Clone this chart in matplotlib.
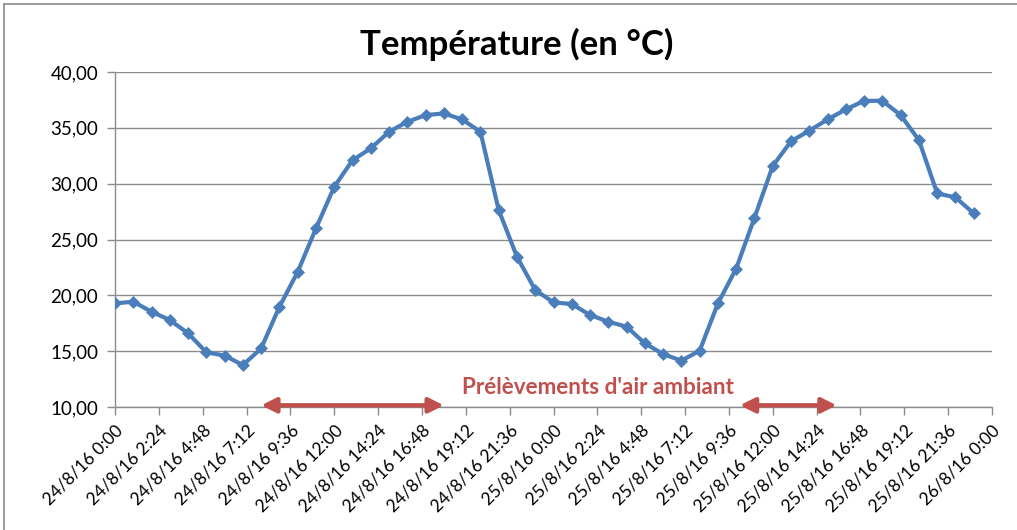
import matplotlib
matplotlib.use("Agg")
import matplotlib.pyplot as plt
import numpy as np

plt.rcParams['font.family'] = ['Lato', 'DejaVu Sans']

# hourly readings, 24/8/16 0:00 -> 25/8/16 23:00
hours = np.arange(48)
temp = [19.28, 19.43, 18.53, 17.79, 16.60, 14.90, 14.60, 13.76,
        15.25, 18.98, 22.10, 26.00, 29.72, 32.10, 33.16, 34.65,
        35.54, 36.14, 36.29, 35.75, 34.65, 27.64, 23.46, 20.47,
        19.37, 19.22, 18.24, 17.64, 17.19, 15.70, 14.74, 14.15,
        15.04, 19.28, 22.40, 26.95, 31.58, 33.80, 34.74, 35.75,
        36.65, 37.42, 37.42, 36.14, 33.90, 29.13, 28.77, 27.34]

tick_hours = np.arange(21) * 2.4
tick_labels = ['24/8/16 0:00', '24/8/16 2:24', '24/8/16 4:48', '24/8/16 7:12',
               '24/8/16 9:36', '24/8/16 12:00', '24/8/16 14:24', '24/8/16 16:48',
               '24/8/16 19:12', '24/8/16 21:36', '25/8/16 0:00', '25/8/16 2:24',
               '25/8/16 4:48', '25/8/16 7:12', '25/8/16 9:36', '25/8/16 12:00',
               '25/8/16 14:24', '25/8/16 16:48', '25/8/16 19:12', '25/8/16 21:36',
               '26/8/16 0:00']
y_ticks = [10, 15, 20, 25, 30, 35, 40]

# sampling periods (hours)
sampling = [(8.0, 18.0), (34.2, 39.5)]

W, H = 1017, 530
fig = plt.figure(figsize=(W / 100, H / 100), dpi=100)
ax = fig.add_axes([115 / W, (H - 407) / H, (992 - 115) / W, (407 - 72) / H])

grid_c = '#8c8c8c'
ax.plot(hours, temp, color='#4a7ebb', lw=3.0, marker='D', ms=6,
        markeredgewidth=0.5, zorder=3)

ax.set_xlim(0, 48)
ax.set_ylim(10, 40)
ax.set_yticks(y_ticks)
ax.yaxis.set_major_formatter(matplotlib.ticker.FuncFormatter(
    lambda v, p: ('%.2f' % v).replace('.', ',')))
ax.set_xticks(tick_hours)
ax.set_xticklabels(tick_labels, rotation=45, ha='right', va='top',
                   rotation_mode='anchor', fontsize=12.5)
ax.tick_params(axis='y', labelsize=13.5)
ax.grid(axis='y', color=grid_c, lw=1.0)
ax.set_axisbelow(True)
for s in ['top', 'right']:
    ax.spines[s].set_visible(False)
for s in ['left', 'bottom']:
    ax.spines[s].set_color(grid_c)
    ax.spines[s].set_linewidth(1.0)
ax.tick_params(axis='both', direction='out', length=6, color=grid_c, width=1.0)
ax.tick_params(axis='y', pad=6)
ax.tick_params(axis='x', pad=5)

red = '#c0504d'
for a, b in sampling:
    ax.annotate('', xy=(b, 10.15), xytext=(a, 10.15),
                arrowprops=dict(arrowstyle='<|-|>', color=red, lw=3.2,
                                mutation_scale=22, shrinkA=0, shrinkB=0),
                annotation_clip=False, zorder=4)
ax.text(26.45, 11.75, "Prélèvements d'air ambiant", color=red,
        fontsize=16.2, fontweight='bold', ha='center', va='center')

fig.text(517 / W, 1 - 44 / H, 'Température (en °C)', fontsize=25,
         fontweight='bold', ha='center', va='center')

# chart border
fig.add_artist(plt.Line2D([4 / W, 4 / W], [0, 1 - 4 / H], color='#8a8a8a',
                          lw=1.2, transform=fig.transFigure))
fig.add_artist(plt.Line2D([4 / W, 1], [1 - 4 / H, 1 - 4 / H], color='#8a8a8a',
                          lw=1.2, transform=fig.transFigure))

fig.savefig('out.png', dpi=100)
